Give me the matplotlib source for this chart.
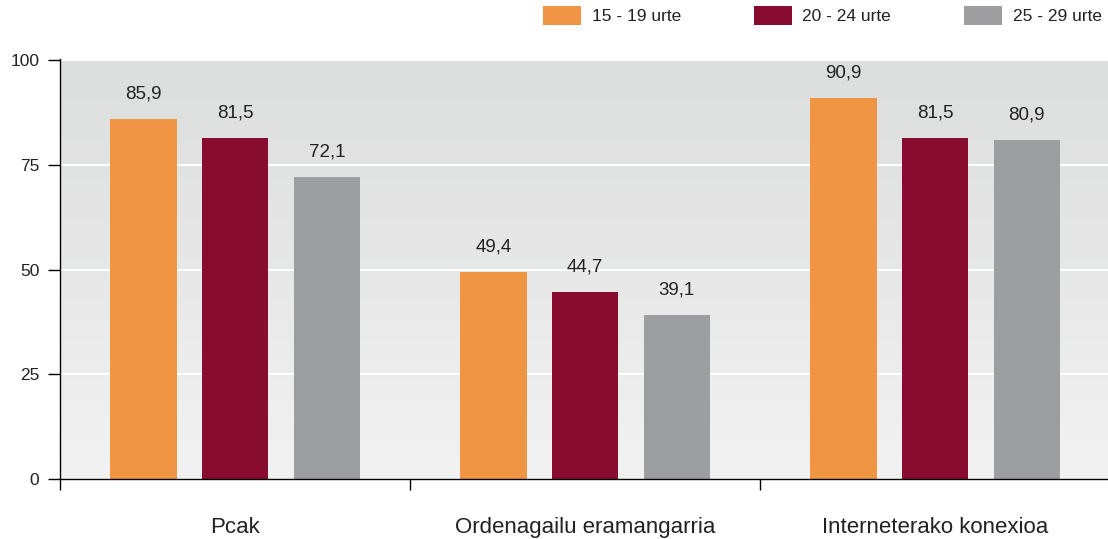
import numpy as np
import matplotlib
matplotlib.use("Agg")
import matplotlib.pyplot as plt
from matplotlib.colors import LinearSegmentedColormap

plt.rcParams['font.family'] = ['Liberation Sans', 'DejaVu Sans']

categories = ["Pcak", "Ordenagailu eramangarria", "Interneterako konexioa"]
series_names = ["15 - 19 urte", "20 - 24 urte", "25 - 29 urte"]
v_15_19 = [85.9, 49.4, 90.9]
v_20_24 = [81.5, 44.7, 81.5]
v_25_29 = [72.1, 39.1, 80.9]
colors = ["#f09544", "#870c30", "#9d9ea0"]

fig = plt.figure(figsize=(11.08, 5.39), dpi=100)
ax = fig.add_axes([0.0542, 0.1113, 0.9458, 0.7792])

# gradient background
bg = LinearSegmentedColormap.from_list("bg", ["#f2f2f2", "#dcdddd"])
grad = np.linspace(0, 1, 256).reshape(-1, 1)
ax.imshow(grad, extent=[0, 1, 0, 1], transform=ax.transAxes, cmap=bg,
          origin="lower", aspect="auto", zorder=0)

x = np.arange(len(categories))
off = 0.262
w = 0.19
for i, vals in enumerate([v_15_19, v_20_24, v_25_29]):
    bars = ax.bar(x + (i - 1) * off, vals, w, color=colors[i], label=series_names[i], zorder=3)
    ax.bar_label(bars, labels=[f"{v:.1f}".replace(".", ",") for v in vals],
                 padding=12, fontsize=13.5, color="#222222")

ax.set_xlim(-0.488, 2.494)
ax.set_ylim(0, 100.3)
ax.set_yticks([0, 25, 50, 75, 100])
for yv in [25, 50, 75, 100]:
    ax.axhline(yv, color="white", lw=1.5, zorder=1)

ax.set_xticks([-0.5, 0.5, 1.5])
ax.set_xticklabels([])
ax.set_xticks(x, minor=True)
ax.set_xticklabels(categories, minor=True, fontsize=16, color="#222222")
ax.tick_params(axis="x", which="major", length=8, width=1, direction="out")
ax.tick_params(axis="x", which="minor", length=0, pad=27)
ax.tick_params(axis="y", length=9, width=1, pad=6, labelsize=12.5, labelcolor="#222222")

for s in ["top", "right"]:
    ax.spines[s].set_visible(False)
ax.spines["left"].set_linewidth(1)
ax.spines["bottom"].set_linewidth(1)
ax.spines["bottom"].set_zorder(4)

fig.legend(loc="upper right", bbox_to_anchor=(1.0, 1.0), ncol=3, frameon=False,
           fontsize=12.5, handlelength=2.18, handleheight=1.32, handletextpad=0.63,
           columnspacing=4.2, borderpad=0.2, borderaxespad=0.15, labelcolor="#222222")

fig.savefig("out.png", dpi=100)
